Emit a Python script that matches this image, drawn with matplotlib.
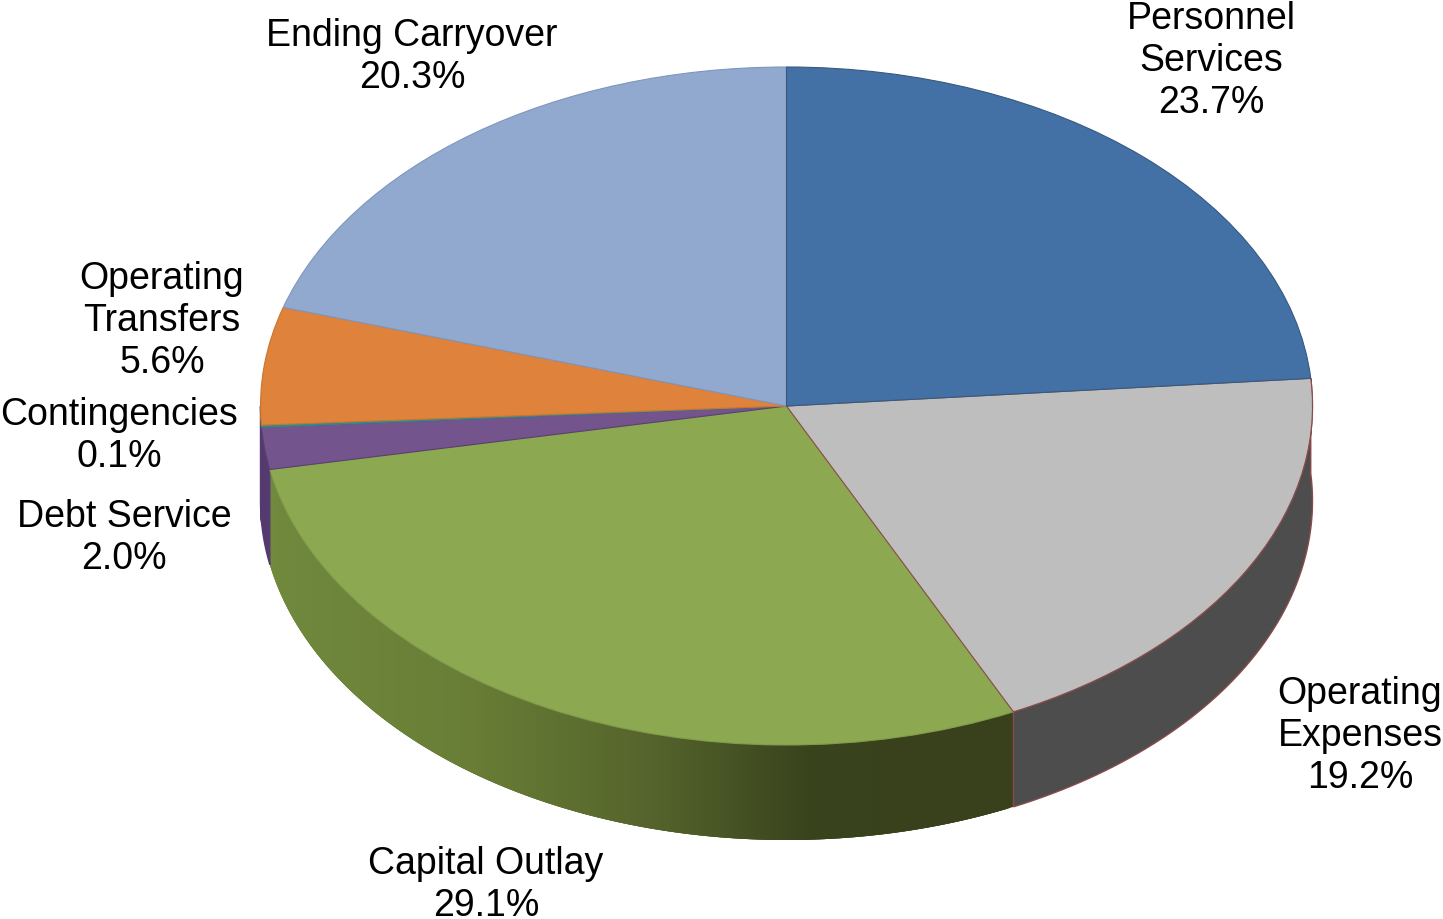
import numpy as np
import matplotlib
matplotlib.use('Agg')
import matplotlib.pyplot as plt

# budget shares, clockwise from 12 o'clock
categories = ['Personnel\nServices', 'Operating\nExpenses', 'Capital Outlay', 'Debt Service',
              'Contingencies', 'Operating\nTransfers', 'Ending Carryover']
shares = [23.7, 19.2, 29.1, 2.0, 0.1, 5.6, 20.3]
colors = ['#4371A6', '#BEBEBE', '#8CA851', '#74548C', '#2E8B8B', '#DE823C', '#92A9CF']
edges = ['#36597F', '#8A4A4A', '#7F9A4A', '#5A4070', '#2E8B8B', '#C9752F', '#7F96BC']
side_colors = ['#2F4F75', '#4D4D4D', None, '#553A70', '#553A70', '#553A70', '#553A70']

W, H = 1443, 920
CX, CY, RX, RY = 786.5, 407, 526, 339
DEPTH = 95 / RY

plt.rcParams['font.family'] = ['Liberation Sans', 'DejaVu Sans']

fig = plt.figure(figsize=(W / 100, H / 100), dpi=100)
ax = fig.add_axes([0, 0, 1, 1])


# side shade of the capital outlay slice goes dark from left to right
def green_shade(x):
    stops_x = [-1.0, -0.6, -0.25, 0.05, 0.43]
    stops_c = [(0.44, 0.54, 0.24), (0.41, 0.49, 0.21), (0.33, 0.39, 0.17),
               (0.22, 0.26, 0.11), (0.22, 0.25, 0.11)]
    return tuple(np.interp(x, stops_x, [c[i] for c in stops_c]) for i in range(3))


# walls first, the pie top goes over them
cum = np.cumsum([0] + shares) / 100 * 360
for i in range(1, len(shares)):
    a0, a1 = cum[i], min(cum[i + 1], 270)
    if a0 >= 270:
        continue
    if side_colors[i] is None:
        # strips run right to left and overlap, so no seams show
        ts = np.radians(np.arange(a0, a1, 0.4))
        for j in range(len(ts)):
            t = np.linspace(ts[j], min(ts[j] + np.radians(1.2), np.radians(a1)), 4)
            xs = np.sin(t)
            ys = np.cos(t)
            ax.fill(np.r_[xs, xs[::-1]], np.r_[ys, ys[::-1] - DEPTH],
                    color=green_shade(np.sin(ts[j])), lw=0, zorder=1)
    else:
        ts = np.radians(np.linspace(a0, a1, 60))
        xs = np.sin(ts)
        ys = np.cos(ts)
        ec = '#8A4A4A' if i == 1 else side_colors[i]
        ax.fill(np.r_[xs, xs[::-1]], np.r_[ys, ys[::-1] - DEPTH],
                facecolor=side_colors[i], edgecolor=ec, lw=1, zorder=2)

wedges, _ = ax.pie(shares, colors=colors, startangle=90, counterclock=False, radius=1)
for w, e in zip(wedges, edges):
    w.set_edgecolor(e)
    w.set_linewidth(0.8)
    w.set_zorder(3)
wedges[1].set_zorder(3.5)
wedges[0].set_zorder(4)

# pixel frame -> unit circle, so the circle reads as the tilted ellipse
ax.set_aspect('auto')
ax.set_xlim((0 - CX) / RX, (W - CX) / RX)
ax.set_ylim((CY - H) / RY, CY / RY)
ax.axis('off')

label_pos = [(1211, 61), (1360, 736), (486, 885), (124, 538), (119, 436), (162, 321), (412, 57)]
for name, val, (px, py) in zip(categories, shares, label_pos):
    fig.text(px / W, 1 - py / H, f'{name}\n{val:.1f}%', ha='center', va='center',
             fontsize=27.0, color='black', linespacing=1.2)

fig.savefig('out.png', dpi=100)
